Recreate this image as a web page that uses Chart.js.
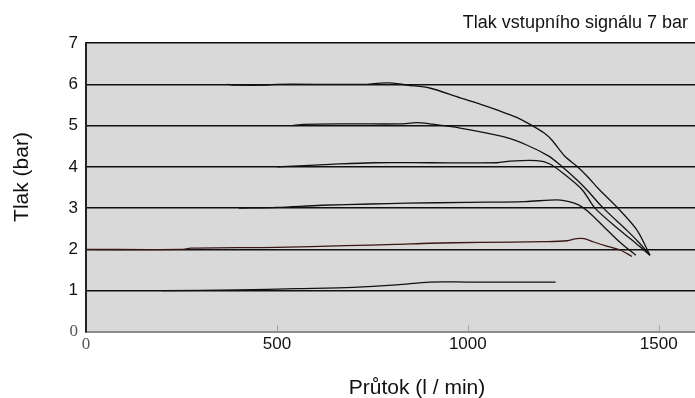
<!DOCTYPE html>
<html>
<head>
<meta charset="utf-8">
<script src="https://cdn.jsdelivr.net/npm/chart.js@4"></script>
<style>
  body { margin: 0; background: #fff; }
  #wrap { width: 695px; height: 398px; }
</style>
</head>
<body>
<div id="wrap"><canvas id="chart"></canvas></div>
<script>
// flow (l/min) and output pressure (bar), one pair per curve
const flow1 = [200, 400, 550, 700, 814, 900, 1000, 1230];
const bar1  = [1.0, 1.02, 1.05, 1.08, 1.14, 1.21, 1.21, 1.21];

const flow2 = [0, 250, 275, 500, 680, 810, 900, 1030, 1200, 1260, 1285, 1305, 1330, 1360, 1400, 1430];
const bar2  = [2.0, 2.0, 2.03, 2.05, 2.09, 2.12, 2.15, 2.17, 2.19, 2.21, 2.26, 2.26, 2.18, 2.09, 1.98, 1.83];

const flow3 = [400, 500, 618, 744, 840, 1000, 1150, 1235, 1265, 1290, 1315, 1355, 1400, 1440];
const bar3  = [3.0, 3.02, 3.07, 3.10, 3.12, 3.14, 3.16, 3.20, 3.16, 3.08, 2.92, 2.56, 2.16, 1.86];

const flow4 = [500, 640, 752, 900, 1076, 1111, 1181, 1215, 1250, 1300, 1333, 1400, 1440, 1477];
const bar4  = [4.0, 4.06, 4.10, 4.10, 4.10, 4.14, 4.15, 4.07, 3.84, 3.44, 3.0, 2.45, 2.15, 1.86];

const flow5 = [540, 570, 690, 823, 866, 901, 980, 1093, 1154, 1212, 1245, 1286, 1312, 1355, 1418, 1450, 1477];
const bar5  = [5.0, 5.03, 5.04, 5.04, 5.07, 5.04, 4.94, 4.73, 4.53, 4.26, 4.02, 3.68, 3.44, 3.0, 2.45, 2.15, 1.86];

const flow6 = [370, 390, 475, 500, 735, 770, 805, 840, 900, 980, 1032, 1076, 1128, 1163, 1200, 1220, 1255, 1285, 1315, 1341, 1390, 1443, 1477];
const bar6  = [6.0, 5.98, 5.98, 6.0, 6.0, 6.03, 6.03, 5.98, 5.91, 5.67, 5.52, 5.38, 5.2, 5.03, 4.82, 4.65, 4.25, 4.02, 3.75, 3.48, 3.03, 2.47, 1.86];

const xTicks = [0, 500, 1000, 1500];
const yTicks = [0, 1, 2, 3, 4, 5, 6, 7];

const chartTitle = 'Tlak vstupního signálu 7 bar';
const xTitle = 'Průtok (l / min)';
const yTitle = 'Tlak (bar)';

const sans = "Arial, 'Liberation Sans', sans-serif";
const serif = "'Times New Roman', 'Liberation Serif', serif";

function points(xs, ys) {
  return xs.map((x, i) => ({x: x, y: ys[i]}));
}

function curve(xs, ys, color) {
  return {
    data: points(xs, ys),
    borderColor: color,
    borderWidth: 1.3,
    pointRadius: 0,
    tension: 0.3,
    fill: false
  };
}

let isZero = c => !!(c && c.tick && c.tick.value === 0);

// grey plot background, inner x ticks and the free-standing texts
let decor = {
  id: 'decor',
  beforeDraw(chart) {
    let a = chart.chartArea, ctx = chart.ctx;
    ctx.save();
    ctx.fillStyle = '#d9d9d9';
    ctx.fillRect(a.left, a.top, a.right - a.left, a.bottom - a.top);
    ctx.restore();
  },
  afterDraw(chart) {
    let a = chart.chartArea, ctx = chart.ctx, xs = chart.scales.x;
    ctx.save();
    ctx.strokeStyle = '#a8a8a8';
    ctx.lineWidth = 1;
    xTicks.forEach(v => {
      if (v === 0) return;
      let px = Math.round(xs.getPixelForValue(v)) + 0.5;
      ctx.beginPath();
      ctx.moveTo(px, a.bottom - 7);
      ctx.lineTo(px, a.bottom - 1);
      ctx.stroke();
    });

    ctx.fillStyle = '#111';
    ctx.textBaseline = 'alphabetic';
    ctx.font = '18px ' + sans;
    ctx.textAlign = 'right';
    ctx.fillText(chartTitle, 688, 28);

    ctx.font = '21px ' + sans;
    ctx.textAlign = 'center';
    ctx.fillText(xTitle, 417, 394);

    ctx.translate(28, 177);
    ctx.rotate(-Math.PI / 2);
    ctx.fillText(yTitle, 0, 0);
    ctx.restore();
  }
};

let ctx = document.getElementById('chart').getContext('2d');
let chart = new Chart(ctx, {
  type: 'line',
  data: {
    datasets: [
      curve(flow1, bar1, '#111'),
      curve(flow2, bar2, '#3a1616'),
      curve(flow3, bar3, '#111'),
      curve(flow4, bar4, '#111'),
      curve(flow5, bar5, '#111'),
      curve(flow6, bar6, '#111')
    ]
  },
  options: {
    responsive: true,
    maintainAspectRatio: false,
    animation: false,
    devicePixelRatio: 1,
    layout: {padding: {top: 43, left: 0, right: 0, bottom: 0}},
    plugins: {legend: {display: false}, tooltip: {enabled: false}},
    scales: {
      x: {
        type: 'linear',
        min: 0,
        max: 1595,
        afterFit: s => { s.height = 66; },
        afterBuildTicks: s => { s.ticks = xTicks.map(v => ({value: v})); },
        ticks: {
          includeBounds: false,
          padding: -6,
          callback: v => String(v),
          color: c => isZero(c) ? '#555' : '#111',
          font: c => isZero(c) ? {family: serif, size: 17} : {family: sans, size: 17},
          maxRotation: 0
        },
        grid: {display: false},
        border: {display: true, color: '#8c8c8c', width: 2}
      },
      y: {
        min: 0,
        max: 7,
        afterFit: s => { s.width = 86; },
        afterBuildTicks: s => { s.ticks = yTicks.map(v => ({value: v})); },
        ticks: {
          padding: 8,
          callback: v => String(v),
          color: c => isZero(c) ? '#555' : '#111',
          font: c => isZero(c) ? {family: serif, size: 17} : {family: sans, size: 17}
        },
        grid: {
          drawTicks: false,
          color: c => isZero(c) ? 'rgba(0,0,0,0)' : '#111',
          lineWidth: 1.5
        },
        border: {display: true, color: '#222', width: 2}
      }
    }
  },
  plugins: [decor]
});
</script>
</body>
</html>
